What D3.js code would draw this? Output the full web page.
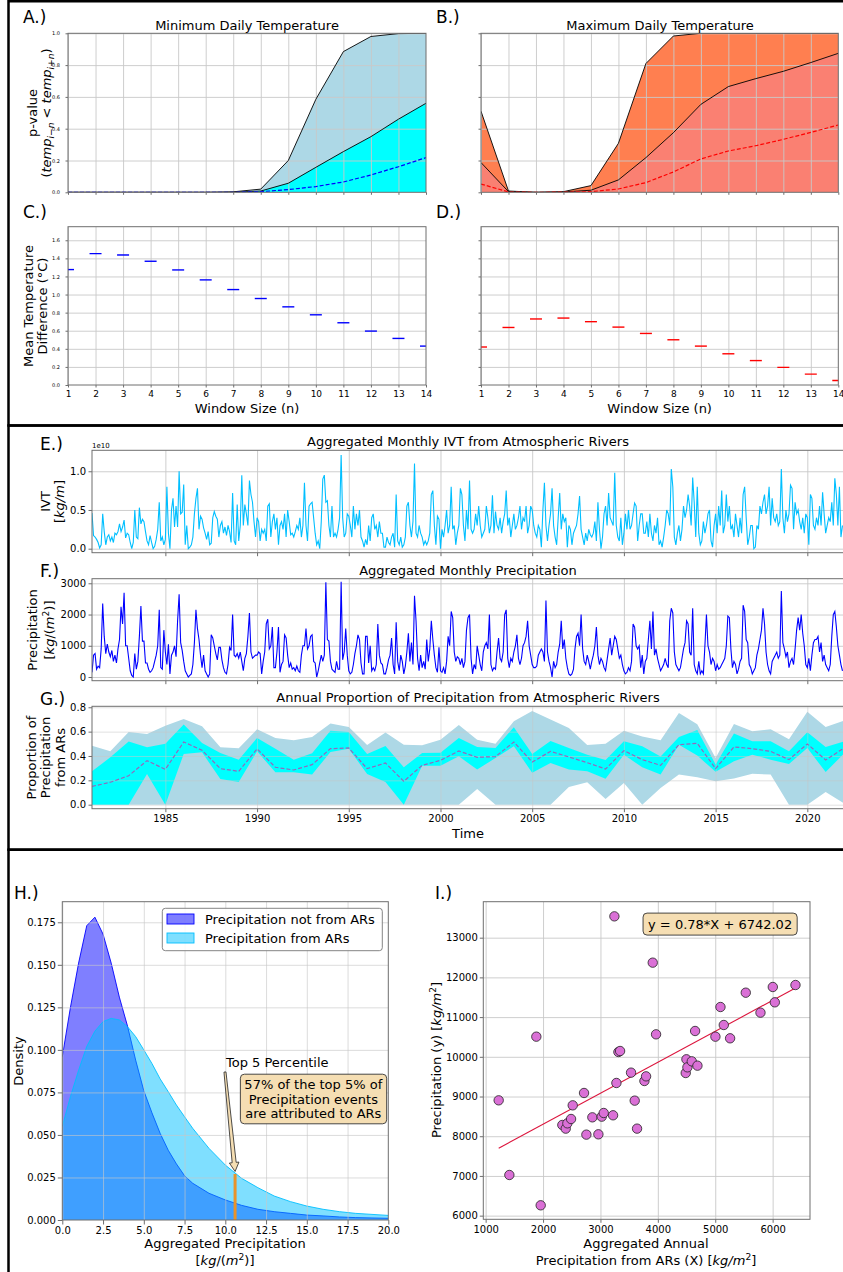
<!DOCTYPE html>
<html>
<head>
<meta charset="utf-8">
<script src="https://cdnjs.cloudflare.com/ajax/libs/d3/7.8.5/d3.min.js"></script>
<style>
body { margin: 0; background: #fff; }
svg { display: block; font-family: "DejaVu Sans", sans-serif; }
</style>
</head>
<body>
<svg id="fig" width="843" height="1272"></svg>
<script>
// ---- data: panels A-D (window size n) ----
var windowSizes = [1, 2, 3, 4, 5, 6, 7, 8, 9, 10, 11, 12, 13, 14];
var minUpper = [0, 0, 0, 0, 0, 0, 0.003, 0.02, 0.20, 0.585, 0.885, 0.98, 0.998, 1.0];
var minMid = [0, 0, 0, 0, 0, 0, 0, 0.008, 0.057, 0.157, 0.256, 0.35, 0.46, 0.56];
var minDash = [0, 0, 0, 0, 0, 0, 0, 0.004, 0.017, 0.036, 0.065, 0.109, 0.161, 0.218];
var maxUpper = [0.51, 0.008, 0, 0.004, 0.042, 0.308, 0.81, 0.983, 1, 1, 1, 1, 1, 1];
var maxMid = [0.187, 0.004, 0, 0.002, 0.013, 0.078, 0.218, 0.375, 0.553, 0.665, 0.715, 0.761, 0.816, 0.874];
var maxDash = [0.052, 0.002, 0, 0.001, 0.004, 0.021, 0.061, 0.128, 0.21, 0.26, 0.293, 0.333, 0.377, 0.423];
var minDiff = [1.276, 1.452, 1.437, 1.368, 1.272, 1.162, 1.055, 0.956, 0.864, 0.776, 0.688, 0.596, 0.515, 0.43];
var maxDiff = [0.42, 0.636, 0.73, 0.74, 0.70, 0.64, 0.57, 0.50, 0.43, 0.345, 0.27, 0.195, 0.12, 0.05];

// ---- data: panel E, monthly IVT (x 1e10), one row per year 1981-2021 ----
var ivtMonthly = [
	[0.46,0.17,0.15,0.12,0.08,0.01,0.05,0.45,0.22,0.05,0.15,0.18],
	[0.10,0.15,0.08,0.20,0.18,0.22,0.32,0.22,0.28,0.37,0.14,0.20],
	[0.18,0.08,0.00,0.08,0.50,0.15,0.13,0.53,0.32,0.38,0.35,0.22],
	[0.10,0.05,0.17,0.08,0.00,0.03,0.12,0.25,0.60,0.10,0.15,0.05],
	[0.12,0.80,0.20,0.00,0.50,0.65,0.28,0.55,0.28,1.00,0.45,0.47],
	[0.83,0.05,0.30,0.00,0.02,0.05,0.15,0.45,0.65,0.78,0.25,0.42],
	[0.38,0.27,0.20,0.12,0.22,0.05,0.07,0.40,0.48,0.42,0.38,0.15],
	[0.30,0.35,0.20,0.28,0.17,0.30,0.22,0.08,0.72,0.10,0.05,0.57],
	[0.10,0.30,0.95,0.30,0.57,0.45,0.30,0.88,0.70,0.60,0.35,0.15],
	[0.40,0.35,0.10,0.25,0.20,0.25,0.10,0.55,0.58,0.15,0.35,0.45],
	[0.25,0.40,0.05,0.30,0.35,0.25,0.45,0.15,0.50,0.35,0.18,0.20],
	[0.15,0.22,0.30,0.25,0.40,0.15,0.30,0.85,0.30,0.10,0.55,0.58],
	[0.60,0.40,0.20,0.05,0.10,0.00,0.35,0.90,0.95,0.60,0.62,0.30],
	[0.15,0.55,0.15,0.20,0.15,0.25,0.40,1.21,0.40,0.15,0.20,0.45],
	[0.42,0.30,0.15,0.55,0.25,0.45,0.30,0.50,0.15,0.10,0.02,0.12],
	[0.05,0.30,0.10,0.40,0.45,0.25,0.30,0.15,0.35,0.20,0.20,0.02],
	[0.02,0.15,0.08,0.05,0.15,0.20,0.02,0.70,0.10,0.05,0.15,0.02],
	[0.05,0.15,0.55,0.60,0.30,0.15,0.35,1.10,0.20,0.15,0.30,0.20],
	[0.15,0.05,0.10,0.05,0.10,0.20,0.70,0.75,0.30,0.05,0.42,0.38],
	[0.00,0.25,0.15,0.30,0.50,0.20,0.30,0.80,0.25,0.30,0.05,0.20],
	[0.30,0.78,0.70,0.30,0.10,0.50,0.25,0.88,0.25,0.20,0.25,0.45],
	[0.30,0.55,0.30,0.15,0.20,0.25,0.55,0.40,0.20,0.30,0.69,0.20],
	[0.48,0.30,0.25,0.40,0.20,0.35,0.45,0.75,0.30,0.40,0.15,0.30],
	[0.45,0.25,0.30,0.40,0.55,0.25,0.40,0.35,0.55,0.20,0.30,0.55],
	[0.50,0.30,0.20,0.15,0.30,0.25,0.02,0.50,0.85,0.30,0.10,0.30],
	[0.45,0.78,0.30,0.15,0.05,0.40,0.72,0.25,0.45,0.35,0.40,0.02],
	[0.30,0.25,0.05,0.20,0.25,0.30,0.45,0.68,0.25,0.15,0.05,0.20],
	[0.10,0.25,0.18,0.15,0.20,0.35,0.10,0.60,0.25,0.00,0.15,0.45],
	[0.55,0.30,0.72,0.40,0.35,0.30,0.98,0.30,0.15,0.10,0.40,0.05],
	[0.20,0.45,0.25,0.50,0.25,0.30,0.45,0.59,0.55,0.10,0.30,0.45],
	[0.45,0.20,0.20,0.35,0.15,0.45,0.20,0.10,0.30,0.20,0.40,0.05],
	[0.10,0.02,0.15,0.30,0.50,0.45,0.30,1.03,0.80,0.15,0.05,0.20],
	[0.30,0.10,0.25,0.55,0.40,0.50,0.70,0.55,0.30,0.92,0.60,0.15],
	[0.80,0.20,0.05,0.10,0.35,0.20,0.30,0.45,0.50,0.10,0.02,0.30],
	[0.45,0.20,0.55,0.30,0.75,0.20,0.30,0.70,0.35,0.55,0.25,0.30],
	[0.15,0.45,0.30,0.15,0.40,0.20,0.70,0.80,0.40,0.05,0.15,0.30],
	[0.30,0.00,0.02,0.30,0.25,0.55,0.45,0.60,0.70,0.45,0.55,0.80],
	[0.30,0.65,0.40,0.35,0.45,0.30,0.35,1.03,0.40,0.20,0.50,0.35],
	[0.45,0.82,0.78,0.25,0.60,0.45,0.50,0.35,0.25,0.40,0.20,0.45],
	[0.40,0.05,0.70,0.65,0.30,0.25,0.40,0.30,0.55,0.30,0.73,0.45],
	[0.20,0.30,0.40,0.35,0.60,0.30,0.91,0.70,0.30,0.80,0.15,0.30]
];

// ---- data: panel F, monthly precipitation, one row per year 1981-2021 ----
var precipMonthly = [
	[150,700,750,250,350,300,900,2350,1300,750,1050,800],
	[650,850,500,700,450,900,1200,2250,1700,2700,1000,1000],
	[600,200,50,0,750,250,500,1300,2270,1150,1150,450],
	[450,250,150,200,300,500,700,1000,2150,300,250,1500],
	[800,400,1050,100,700,800,1000,650,1800,2650,1100,850],
	[500,200,100,0,50,100,400,1100,2150,1550,1200,700],
	[300,700,200,100,0,100,1350,1250,1000,750,550,950],
	[950,550,300,150,100,400,950,850,2000,700,650,750],
	[600,800,500,200,600,750,1300,2050,800,600,650,700],
	[700,800,750,100,500,800,1700,1850,900,1000,1600,300],
	[300,800,1600,150,400,500,1350,1250,700,300,450,250],
	[300,200,350,200,150,700,1000,1000,1550,900,1000,1300],
	[1350,500,450,0,200,450,700,500,700,3030,1200,1150],
	[500,250,200,150,500,250,250,3050,550,800,1550,700],
	[200,100,150,400,750,1000,1350,1200,450,100,100,1300],
	[1300,450,1000,200,300,200,400,1700,700,450,400,100],
	[100,300,550,700,1250,400,100,1750,500,200,700,500],
	[100,350,800,1400,500,1100,400,2600,1800,600,200,700],
	[300,500,250,1200,500,900,1800,1200,700,300,150,950],
	[200,150,300,100,500,1300,1000,2100,1900,800,500,650],
	[600,400,600,300,500,1500,1900,2000,600,100,400,250],
	[1000,700,400,200,800,1000,1100,900,2000,400,200,300],
	[250,800,1250,600,500,800,2000,2150,600,300,600,500],
	[800,1000,1350,600,400,600,1000,1100,1300,1800,1000,700],
	[400,300,300,350,700,800,900,800,500,2450,800,500],
	[300,0,500,300,400,800,1050,1800,900,1200,600,300],
	[100,50,100,250,900,1300,1400,1000,2000,900,500,400],
	[700,500,250,500,700,1000,1600,700,400,600,500,300],
	[200,550,900,1250,700,1000,1300,1200,900,600,700,400],
	[200,100,150,300,200,500,1700,1600,1000,900,1000,300],
	[700,100,500,600,1200,1800,900,2100,700,900,600,400],
	[200,300,400,600,400,300,1800,2200,2050,800,400,300],
	[200,300,600,900,1100,1800,1700,800,700,2200,400,200],
	[100,500,100,200,100,1000,2000,1000,800,400,600,500],
	[200,400,250,300,400,500,600,1000,1950,1900,900,300],
	[500,400,100,250,500,600,2300,2100,1200,1100,400,300],
	[100,200,300,700,900,1200,1500,2200,1700,800,400,200],
	[100,500,600,700,800,600,700,2750,1100,900,650,800],
	[300,500,600,400,900,1500,1900,1500,2000,1400,1000,400],
	[300,600,200,700,1100,1200,1200,1300,800,1100,500,700],
	[400,300,200,400,1300,2000,2100,1600,1000,700,400,200]
];

// ---- data: panel G, annual proportion 1981-2022 ----
var years = d3.range(1981, 2023);
var gUpper95 = [0.485,0.438,0.597,0.581,0.649,0.704,0.644,0.471,0.463,0.619,0.548,0.529,0.556,0.666,0.638,0.49,0.592,0.493,
	0.488,0.534,0.655,0.534,0.50,0.685,0.77,0.70,0.63,0.49,0.50,0.608,0.56,0.53,0.753,0.66,0.384,0.663,0.603,0.619,0.537,0.764,0.638,0.69];
var gLower95 = [0,0,0,0,0,0,0,0,0,0,0,0,0,0,0,0,0,0,0,0,0,
	0.129,0,0,0,0,0.145,0.184,0.047,0.178,0,0.137,0.247,0.225,0.192,0.216,0.255,0.247,0,0,0.104,0.01];
var gUpper50 = [0.274,0.389,0.518,0.471,0.50,0.658,0.507,0.425,0.37,0.548,0.46,0.37,0.422,0.608,0.597,0.416,0.482,0.307,
	0.425,0.427,0.548,0.474,0.466,0.636,0.416,0.523,0.466,0.411,0.367,0.52,0.479,0.395,0.556,0.614,0.33,0.584,0.52,0.52,0.438,0.595,0.474,0.52];
var gLower50 = [0,0,0,0.252,0,0.416,0.43,0.21,0.186,0.438,0.266,0.266,0.247,0.433,0.46,0.252,0.186,0,
	0.32,0.32,0.397,0.288,0.384,0.479,0.263,0.342,0.288,0.274,0.214,0.41,0.307,0.247,0.493,0.403,0.27,0.356,0.41,0.37,0.334,0.466,0.268,0.42];
var gMedian = [0.15,0.184,0.238,0.362,0.29,0.515,0.447,0.296,0.274,0.458,0.307,0.285,0.329,0.46,0.466,0.296,0.342,0.192,
	0.323,0.364,0.441,0.389,0.395,0.515,0.35,0.438,0.392,0.345,0.293,0.444,0.37,0.323,0.493,0.504,0.296,0.474,0.46,0.438,0.37,0.499,0.367,0.466];

// ---- data: panel H, density curves ----
var kdeX = [0,0.5,1,1.5,2,2.5,3,3.5,4,4.5,5,5.5,6,6.5,7,7.5,8,9,10,11,12,13,14,15,16,17,18,19,20];
var densNotAR = [0.096,0.125,0.151,0.173,0.178,0.168,0.151,0.131,0.114,0.094,0.076,0.063,0.051,0.041,0.033,0.026,0.0216,0.0157,0.0118,0.0086,0.0063,0.0049,0.0039,0.0029,0.0024,0.0018,0.0014,0.0012,0.001];
var densAR = [0.055,0.0725,0.088,0.102,0.111,0.1166,0.1185,0.1176,0.1136,0.1078,0.10,0.092,0.083,0.0754,0.0676,0.0607,0.0539,0.0421,0.0323,0.0245,0.019,0.0141,0.0108,0.0082,0.0063,0.0049,0.0039,0.0033,0.0027];
var top5Value = 10.6;
var top5Density = 0.027;

// ---- data: panel I, annual totals ----
var arX = [1227,1413,1883,1959,2336,2395,2424,2488,2517,2714,2755,2859,2964,3022,3057,3220,3243,3278,3313,3342,3533,3597,3638,3766,3795,3911,3969,4486,4498,4515,4591,4649,4690,5003,5091,5149,5259,5532,5788,6003,6038,6398];
var totY = [8904,7024,10507,6260,8283,8191,8325,8434,8778,9089,8040,8476,8048,8493,8585,8527,13537,9341,10121,10146,9601,8896,8191,9391,9508,12371,10566,9592,9937,9735,9886,10650,9777,10507,11254,10801,10466,11615,11112,11758,11372,11808];
var fitSlope = 0.78, fitIntercept = 6742.02;

var FONT = "DejaVu Sans, sans-serif";
var GRID = "#c8c8c8";
var SPINE = "#6e6e6e";

var svg = d3.select("#fig");
svg.append("rect").attr("width", 843).attr("height", 1272).attr("fill", "#fff");
var defs = svg.append("defs");
var clipN = 0;

// section frames
[[1.25, 425.5], [425.5, 849.7], [849.7, 1300]].forEach(function(s) {
	svg.append("rect").attr("x", 8.5).attr("y", s[0]).attr("width", 900).attr("height", s[1] - s[0])
		.attr("fill", "none").attr("stroke", "#000").attr("stroke-width", 2.5);
});

function clipFor(x, y) {
	var id = "clip" + (clipN++);
	defs.append("clipPath").attr("id", id).append("rect")
		.attr("x", x.range()[0]).attr("y", y.range()[1])
		.attr("width", x.range()[1] - x.range()[0]).attr("height", y.range()[0] - y.range()[1]);
	return "url(#" + id + ")";
}

function styleGrid(s) {
	s.select(".domain").remove();
	s.selectAll("line").attr("stroke", GRID).attr("stroke-width", 0.9);
}

function grid(g, x, y, xt, yt) {
	var h = y.range()[0] - y.range()[1], w = x.range()[1] - x.range()[0];
	if (xt) g.append("g").attr("transform", "translate(0," + y.range()[0] + ")")
		.call(d3.axisBottom(x).tickValues(xt).tickSize(-h).tickFormat(function() { return ""; }))
		.call(styleGrid);
	if (yt) g.append("g").attr("transform", "translate(" + x.range()[0] + ",0)")
		.call(d3.axisLeft(y).tickValues(yt).tickSize(-w).tickFormat(function() { return ""; }))
		.call(styleGrid);
}

function none() { return ""; }

function axes(x, y, o) {
	var bx = svg.append("g").attr("transform", "translate(0," + y.range()[0] + ")")
		.call(d3.axisBottom(x).tickValues(o.xt).tickSize(o.len).tickPadding(o.padX)
			.tickFormat(o.xf || none));
	bx.attr("font-family", FONT).attr("font-size", o.xs);
	bx.select(".domain").remove();
	bx.selectAll("line").attr("stroke", SPINE);
	var by = svg.append("g").attr("transform", "translate(" + x.range()[0] + ",0)")
		.call(d3.axisLeft(y).tickValues(o.yt).tickSize(o.len).tickPadding(o.padY)
			.tickFormat(o.yf || none));
	by.attr("font-family", FONT).attr("font-size", o.ys);
	by.select(".domain").remove();
	by.selectAll("line").attr("stroke", SPINE);
	svg.append("rect").attr("x", x.range()[0]).attr("y", y.range()[1])
		.attr("width", x.range()[1] - x.range()[0]).attr("height", y.range()[0] - y.range()[1])
		.attr("fill", "none").attr("stroke", SPINE).attr("stroke-width", 1);
}

function txt(x, y, size, anchor, rot) {
	return svg.append("text")
		.attr("transform", "translate(" + x + "," + y + ")" + (rot ? " rotate(" + rot + ")" : ""))
		.attr("font-size", size).attr("text-anchor", anchor || "middle").attr("fill", "#000");
}

function rich(t, parts, size) {
	var shift = 0;
	parts.forEach(function(p) {
		var s = t.append("tspan").text(p[0]);
		var want = 0;
		if (p[1] == "sub") {
			want = size * 0.28;
			s.attr("font-size", size * 0.7).attr("font-style", "italic");
		} else if (p[1] == "sup") {
			want = -size * 0.4;
			s.attr("font-size", size * 0.7);
		} else if (p[1] == "i") {
			s.attr("font-style", "italic");
		}
		if (want != shift) { s.attr("dy", want - shift); shift = want; }
	});
	return t;
}

// ================= A / B =================
var yP = d3.scaleLinear().domain([0, 1]).range([192.3, 33.3]);
var xA = d3.scaleLinear().domain([1, 14]).range([68, 426]);
var xB = d3.scaleLinear().domain([1, 14]).range([481, 838.3]);
var pTicks = [0, 0.2, 0.4, 0.6, 0.8, 1.0];

function pvaluePanel(x, upper, mid, dash, cUp, cMid, cDash, showY) {
	var d = svg.append("g").attr("clip-path", clipFor(x, yP));
	var area = d3.area().x(function(v, i) { return x(windowSizes[i]); }).y0(yP(0)).y1(function(v) { return yP(v); });
	var line = d3.line().x(function(v, i) { return x(windowSizes[i]); }).y(function(v) { return yP(v); });
	d.append("path").attr("d", area(upper)).attr("fill", cUp);
	d.append("path").attr("d", area(mid)).attr("fill", cMid);
	grid(d, x, yP, windowSizes, pTicks);
	d.append("path").attr("d", line(upper)).attr("fill", "none").attr("stroke", "#000").attr("stroke-width", 0.9);
	d.append("path").attr("d", line(mid)).attr("fill", "none").attr("stroke", "#000").attr("stroke-width", 0.9);
	d.append("path").attr("d", line(dash)).attr("fill", "none").attr("stroke", cDash)
		.attr("stroke-width", 1.2).attr("stroke-dasharray", "4,2");
	axes(x, yP, { xt: windowSizes, yt: pTicks, len: 2.5, padX: 2, padY: 5.5, xs: 5, ys: 5,
		yf: showY ? d3.format(".1f") : null });
}
pvaluePanel(xA, minUpper, minMid, minDash, "lightblue", "cyan", "blue", true);
pvaluePanel(xB, maxUpper, maxMid, maxDash, "coral", "salmon", "red", false);

txt(247, 29.7, 13).text("Minimum Daily Temperature");
txt(660, 29.7, 13).text("Maximum Daily Temperature");
txt(36.5, 113, 13, "middle", -90).text("p-value");
rich(txt(50.5, 113, 13, "middle", -90), [["("], ["temp", "i"], ["i\u2212n", "sub"], [" < "], ["temp", "i"], ["i+n", "sub"], [")"]], 13);

// ================= C / D =================
var yD = d3.scaleLinear().domain([0, 1.75]).range([385, 226.7]);
var dTicks = [0, 0.2, 0.4, 0.6, 0.8, 1.0, 1.2, 1.4, 1.6];

function diffPanel(x, vals, color, showY) {
	var d = svg.append("g").attr("clip-path", clipFor(x, yD));
	grid(d, x, yD, windowSizes, dTicks);
	d.selectAll("line.mk").data(vals).enter().append("line").attr("class", "mk")
		.attr("x1", function(v, i) { return x(windowSizes[i]) - 6; })
		.attr("x2", function(v, i) { return x(windowSizes[i]) + 6; })
		.attr("y1", function(v) { return yD(v); })
		.attr("y2", function(v) { return yD(v); })
		.attr("stroke", color).attr("stroke-width", 1.4);
	axes(x, yD, { xt: windowSizes, yt: dTicks, len: 2.5, padX: 3.5, padY: 5.5, xs: 9, ys: 5,
		xf: d3.format("d"), yf: showY ? d3.format(".1f") : null });
	txt(x(7.5), 412.5, 13).text("Window Size (n)");
}
diffPanel(xA, minDiff, "blue", true);
diffPanel(xB, maxDiff, "red", false);
txt(33.3, 306, 13, "middle", -90).text("Mean Temperature");
txt(47.3, 306, 13, "middle", -90).text("Difference (\u00b0C)");

txt(23, 23, 17, "start").text("A.)");
txt(436, 23, 17, "start").text("B.)");
txt(23, 218, 17, "start").text("C.)");
txt(436, 218, 17, "start").text("D.)");

// ================= E / F / G =================
var xT = d3.scaleLinear().domain([1981, 2022]).range([92, 844]);
var yearTicks = [1985, 1990, 1995, 2000, 2005, 2010, 2015, 2020];
var ivt = d3.merge(ivtMonthly);
var precip = d3.merge(precipMonthly);
function monthX(v, i) { return xT(1981 + i / 12); }

var yE = d3.scaleLinear().domain([-0.052, 1.271]).range([552.7, 450.3]);
var gE = svg.append("g").attr("clip-path", clipFor(xT, yE));
grid(gE, xT, yE, yearTicks, [0, 0.5, 1.0]);
gE.append("path").attr("d", d3.line().x(monthX).y(function(v) { return yE(v); })(ivt))
	.attr("fill", "none").attr("stroke", "deepskyblue").attr("stroke-width", 1.1);
axes(xT, yE, { xt: yearTicks, yt: [0, 0.5, 1.0], len: 3.5, padX: 3, padY: 2.5, xs: 10, ys: 10,
	yf: d3.format(".1f") });
txt(92, 447.5, 7, "start").text("1e10");

var yF = d3.scaleLinear().domain([-118, 3147]).range([680.7, 578.7]);
var gF = svg.append("g").attr("clip-path", clipFor(xT, yF));
grid(gF, xT, yF, yearTicks, [0, 1000, 2000, 3000]);
gF.append("path").attr("d", d3.line().x(monthX).y(function(v) { return yF(v); })(precip))
	.attr("fill", "none").attr("stroke", "blue").attr("stroke-width", 1.1);
axes(xT, yF, { xt: yearTicks, yt: [0, 1000, 2000, 3000], len: 3.5, padX: 3, padY: 2.5, xs: 10, ys: 10,
	yf: d3.format("d") });

var yG = d3.scaleLinear().domain([-0.033, 0.808]).range([808.7, 706.3]);
var gG = svg.append("g").attr("clip-path", clipFor(xT, yG));
function band(lo, hi) {
	return d3.area().x(function(v, i) { return xT(years[i]); })
		.y0(function(v, i) { return yG(lo[i]); }).y1(function(v, i) { return yG(hi[i]); })(years);
}
gG.append("path").attr("d", band(gLower95, gUpper95)).attr("fill", "lightblue");
gG.append("path").attr("d", band(gLower50, gUpper50)).attr("fill", "cyan");
grid(gG, xT, yG, yearTicks, [0, 0.2, 0.4, 0.6, 0.8]);
gG.selectAll(".domain").remove();
gG.selectAll("g.tick line").attr("stroke-opacity", 0.6);
gG.append("path").attr("d", d3.line().x(function(v, i) { return xT(years[i]); }).y(function(v) { return yG(v); })(gMedian))
	.attr("fill", "none").attr("stroke", "#9467bd").attr("stroke-width", 1.2).attr("stroke-dasharray", "4,2");
axes(xT, yG, { xt: yearTicks, yt: [0, 0.2, 0.4, 0.6, 0.8], len: 3.5, padX: 3, padY: 2.5, xs: 10, ys: 10,
	xf: d3.format("d"), yf: d3.format(".1f") });

txt(468, 445.7, 13).text("Aggregated Monthly IVT from Atmospheric Rivers");
txt(468, 575.4, 13).text("Aggregated Monthly Precipitation");
txt(468, 702.2, 13).text("Annual Proportion of Precipitation from Atmospheric Rivers");
txt(468, 838, 13).text("Time");
txt(40, 449.5, 17, "start").text("E.)");
txt(40, 576.7, 17, "start").text("F.)");
txt(40, 704.7, 17, "start").text("G.)");

txt(50, 501.5, 13, "middle", -90).text("IVT");
rich(txt(64, 501.5, 13, "middle", -90), [["["], ["kg/m", "i"], ["]"]], 13);
txt(37, 630, 13, "middle", -90).text("Precipitation");
rich(txt(54, 630, 13, "middle", -90), [["["], ["kg", "i"], ["/("], ["m", "i"], ["2", "sup"], [")]"]], 13);
txt(35.5, 757.5, 13, "middle", -90).text("Proportion of");
txt(50, 757.5, 13, "middle", -90).text("Precipitation");
txt(64.5, 757.5, 13, "middle", -90).text("from ARs");

// ================= H =================
var xH = d3.scaleLinear().domain([0, 20]).range([62.3, 388.3]);
var yH = d3.scaleLinear().domain([0, 0.1871]).range([1220, 901.7]);
var hXt = [0, 2.5, 5, 7.5, 10, 12.5, 15, 17.5, 20];
var hYt = [0, 0.025, 0.05, 0.075, 0.1, 0.125, 0.15, 0.175];
var gH = svg.append("g").attr("clip-path", clipFor(xH, yH));
var kdeArea = d3.area().x(function(v, i) { return xH(kdeX[i]); }).y0(yH(0)).y1(function(v) { return yH(v); });
var kdeLine = d3.line().x(function(v, i) { return xH(kdeX[i]); }).y(function(v) { return yH(v); });
gH.append("path").attr("d", kdeArea(densNotAR)).attr("fill", "blue").attr("fill-opacity", 0.5);
gH.append("path").attr("d", kdeLine(densNotAR)).attr("fill", "none").attr("stroke", "blue").attr("stroke-width", 0.9);
gH.append("path").attr("d", kdeArea(densAR)).attr("fill", "deepskyblue").attr("fill-opacity", 0.5);
gH.append("path").attr("d", kdeLine(densAR)).attr("fill", "none").attr("stroke", "deepskyblue").attr("stroke-width", 0.9);
grid(gH, xH, yH, hXt, hYt);
gH.selectAll("g.tick line").attr("stroke-opacity", 0.7);
gH.append("line").attr("x1", xH(top5Value)).attr("x2", xH(top5Value))
	.attr("y1", yH(0)).attr("y2", yH(top5Density))
	.attr("stroke", "#e8932a").attr("stroke-width", 3);
axes(xH, yH, { xt: hXt, yt: hYt, len: 4.5, padX: 2.5, padY: 2, xs: 10, ys: 10,
	xf: d3.format(".1f"), yf: d3.format(".3f") });

// legend
var lg = svg.append("g");
lg.append("rect").attr("x", 162.3).attr("y", 908.3).attr("width", 220).attr("height", 42.4)
	.attr("rx", 3).attr("fill", "#fff").attr("fill-opacity", 0.85).attr("stroke", "#777").attr("stroke-width", 0.9);
[["Precipitation not from ARs", "blue", 919], ["Precipitation from ARs", "deepskyblue", 938]].forEach(function(e) {
	lg.append("rect").attr("x", 167).attr("y", e[2] - 5).attr("width", 27).attr("height", 10)
		.attr("fill", e[1]).attr("fill-opacity", 0.5).attr("stroke", e[1]).attr("stroke-width", 0.9);
	lg.append("text").attr("x", 205).attr("y", e[2] + 4.7).attr("font-size", 13).text(e[0]);
});

// annotation arrow + boxes
function arrow(x0, y0, x1, y1) {
	var dx = x1 - x0, dy = y1 - y0, L = Math.sqrt(dx * dx + dy * dy);
	var ux = dx / L, uy = dy / L, px = -uy, py = ux;
	var hl = 9, hw = 4.8, tw = 1.0, bw = 2.0;
	var bx = x1 - ux * hl, by = y1 - uy * hl;
	var pts = [
		[x0 + px * tw, y0 + py * tw], [bx + px * bw, by + py * bw], [bx + px * hw, by + py * hw],
		[x1, y1],
		[bx - px * hw, by - py * hw], [bx - px * bw, by - py * bw], [x0 - px * tw, y0 - py * tw]
	];
	svg.append("polygon").attr("points", pts.map(function(p) { return p.join(","); }).join(" "))
		.attr("fill", "wheat").attr("stroke", "#222").attr("stroke-width", 0.8);
}
arrow(xH(9.98), yH(0.087), xH(10.6), yH(0.0285));
txt(xH(10.04), yH(0.0899), 13, "start").text("Top 5 Percentile");

function textBox(cx, lines, y0, lh, size, pad) {
	var g = svg.append("g");
	var r = g.append("rect");
	var t = g.append("text").attr("font-size", size).attr("text-anchor", "middle");
	lines.forEach(function(l, i) {
		t.append("tspan").attr("x", cx).attr("y", y0 + i * lh).text(l);
	});
	var b = t.node().getBBox();
	r.attr("x", b.x - pad).attr("y", b.y - pad * 0.7).attr("width", b.width + 2 * pad).attr("height", b.height + pad * 1.4)
		.attr("rx", 4).attr("fill", "wheat").attr("stroke", "#333").attr("stroke-width", 0.9);
}
textBox(xH(15.4), ["57% of the top 5% of", "Precipitation events", "are attributed to ARs"], 1089, 14.5, 13, 4);

txt(14, 899.3, 17, "start").text("H.)");
txt(22.8, 1061, 13, "middle", -90).text("Density");
txt(225, 1247.7, 13).text("Aggregated Precipitation");
rich(txt(225, 1265, 13), [["["], ["kg", "i"], ["/("], ["m", "i"], ["2", "sup"], [")]"]], 13);

// ================= I =================
var xI = d3.scaleLinear().domain([959, 6651]).range([483.3, 810]);
var yI = d3.scaleLinear().domain([5908, 13906]).range([1219.3, 901.7]);
var iXt = [1000, 2000, 3000, 4000, 5000, 6000];
var iYt = [6000, 7000, 8000, 9000, 10000, 11000, 12000, 13000];
var gI = svg.append("g").attr("clip-path", clipFor(xI, yI));
grid(gI, xI, yI, iXt, iYt);
var fitX = d3.extent(arX);
gI.append("line").attr("x1", xI(fitX[0])).attr("x2", xI(fitX[1]))
	.attr("y1", yI(fitSlope * fitX[0] + fitIntercept)).attr("y2", yI(fitSlope * fitX[1] + fitIntercept))
	.attr("stroke", "crimson").attr("stroke-width", 1.1);
gI.selectAll("circle").data(arX).enter().append("circle")
	.attr("cx", function(v) { return xI(v); })
	.attr("cy", function(v, i) { return yI(totY[i]); })
	.attr("r", 4.7).attr("fill", "orchid").attr("stroke", "#222").attr("stroke-width", 0.8);
axes(xI, yI, { xt: iXt, yt: iYt, len: 3.5, padX: 3, padY: 2, xs: 10, ys: 10,
	xf: d3.format("d"), yf: d3.format("d") });
textBox(xI(5085), ["y = 0.78*X + 6742.02"], 928.6, 14, 13, 5);

txt(435, 899, 17, "start").text("I.)");
rich(txt(441, 1060, 13, "middle", -90), [["Precipitation (y) ["], ["kg/m", "i"], ["2", "sup"], ["]"]], 13);
txt(646, 1247.7, 13).text("Aggregated Annual");
rich(txt(646, 1265, 13), [["Precipitation from ARs (X) ["], ["kg/m", "i"], ["2", "sup"], ["]"]], 13);
</script>
</body>
</html>
